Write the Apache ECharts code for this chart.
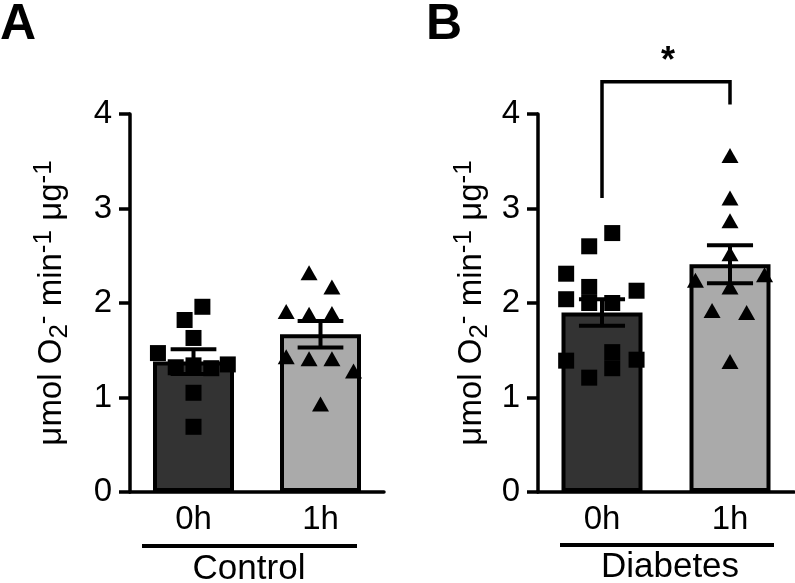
<!DOCTYPE html>
<html><head><meta charset="utf-8">
<script src="https://cdn.jsdelivr.net/npm/echarts/dist/echarts.min.js"></script>
<style>html,body{margin:0;padding:0;background:#fff}#c{width:795px;height:583px}</style>
</head><body><div id="c"></div>
<script>
// ---- data ----
const categories = ['0h', '1h'];
const groupNames = ['Control', 'Diabetes'];
const panelLetters = ['A', 'B'];
const yTickMin = 0, yTickMax = 4, yTickStep = 1;
const controlMeans = [1.38, 1.67];
const controlSEM = [0.13, 0.14];
const diabetesMeans = [1.90, 2.41];
const diabetesSEM = [0.14, 0.20];
// individual points: [horizontal jitter within the bar, value]
const control0h = [[0.07,1.96],[-0.07,1.82],[0,1.63],[-0.28,1.47],[-0.14,1.32],[0,1.34],[0.14,1.31],[0.27,1.35],[0,1.05],[0,0.69]];
const control1h = [[-0.09,2.32],[0.09,2.17],[-0.27,1.91],[-0.09,1.88],[0.09,1.89],[-0.27,1.43],[-0.09,1.41],[0.09,1.41],[0.26,1.28],[0,0.93]];
const diabetes0h = [[0.08,2.74],[-0.1,2.60],[-0.28,2.31],[-0.1,2.17],[0.27,2.13],[-0.28,2.04],[-0.1,2.00],[0.08,2.00],[0.08,1.48],[-0.28,1.39],[0.27,1.40],[0.08,1.31],[-0.1,1.21]];
const diabetes1h = [[0,3.56],[0,3.11],[0,2.87],[0,2.52],[-0.27,2.24],[0.27,2.30],[0,2.17],[-0.14,1.92],[0.13,1.90],[0,1.38]];
// significance bracket in panel B: [x0, x1, leftEnd, rightEnd, top, labelY]
const sigBracket = [0, 1, 3.11, 4.10, 4.34, 4.55];
const sigLabel = '*';

// ---- styles ----
const FONT = "'Liberation Sans', Arial, sans-serif";
const barColors = ['#333333', '#aaaaaa'];
const yName = '{t|μmol O}{sub|2}{sup|-}{t| min}{sup|-1}{t| μg}{sup|-1}';
const yNameStyle = {
  fontFamily: FONT, color: '#000',
  rich: {
    t: {fontSize: 33, fontFamily: FONT, color: '#000', lineHeight: 42},
    sub: {fontSize: 26, fontFamily: FONT, color: '#000', lineHeight: 24, verticalAlign: 'bottom'},
    sup: {fontSize: 26, fontFamily: FONT, color: '#000', lineHeight: 24, verticalAlign: 'top'}
  }
};

function catAxis(gi) {
  return {
    type: 'category', gridIndex: gi, data: categories,
    axisLine: {onZero: false, lineStyle: {color: '#000', width: 3.5}},
    axisTick: {show: false},
    axisLabel: {color: '#000', fontSize: 33, fontFamily: FONT, margin: 11}
  };
}
function jitterAxis(gi) {
  return {type: 'value', gridIndex: gi, min: -0.5, max: 1.5, show: false};
}
function valAxis(gi, gap) {
  return {
    type: 'value', gridIndex: gi, min: yTickMin, max: yTickMax, interval: yTickStep,
    axisLine: {show: true, onZero: false, lineStyle: {color: '#000', width: 3.5}},
    axisTick: {show: true, length: 11, lineStyle: {color: '#000', width: 3.5}},
    axisLabel: {color: '#000', fontSize: 33, fontFamily: FONT, margin: 18},
    splitLine: {show: false},
    name: yName, nameLocation: 'middle', nameRotate: 90, nameGap: gap,
    nameTextStyle: yNameStyle
  };
}

function errRender(params, api) {
  const x = api.value(0);
  const lo = api.coord([x, api.value(1)]);
  const hi = api.coord([x, api.value(2)]);
  const half = api.size([1, 0])[0] * 0.18;
  const st = {stroke: '#000', lineWidth: 4, fill: null};
  return {type: 'group', children: [
    {type: 'line', shape: {x1: lo[0], y1: lo[1], x2: hi[0], y2: hi[1]}, style: st},
    {type: 'line', shape: {x1: hi[0] - half, y1: hi[1], x2: hi[0] + half, y2: hi[1]}, style: st},
    {type: 'line', shape: {x1: lo[0] - half, y1: lo[1], x2: lo[0] + half, y2: lo[1]}, style: st}
  ]};
}
function bracketRender(params, api) {
  const x0 = api.value(0), x1 = api.value(1);
  const a = api.coord([x0, api.value(2)]);
  const b = api.coord([x0, api.value(4)]);
  const c = api.coord([x1, api.value(4)]);
  const d = api.coord([x1, api.value(3)]);
  const t = api.coord([(x0 + x1) / 2, api.value(5)]);
  return {type: 'group', children: [
    {type: 'polyline', shape: {points: [a, b, c, d]}, style: {stroke: '#000', lineWidth: 3.5, fill: null}},
    {type: 'text', x: t[0] + 2, y: t[1], style: {text: sigLabel, fontSize: 36, fontWeight: 'bold', fontFamily: FONT, fill: '#000', align: 'center', verticalAlign: 'middle'}}
  ]};
}

function barSeries(means, xi, yi) {
  return {
    type: 'bar', xAxisIndex: xi, yAxisIndex: yi, barWidth: 81, z: 2,
    data: means.map((v, i) => ({value: v, itemStyle: {color: barColors[i]}})),
    itemStyle: {borderColor: '#000', borderWidth: 4}
  };
}
function errSeries(means, sems, xi, yi) {
  return {
    type: 'custom', xAxisIndex: xi, yAxisIndex: yi, z: 3,
    data: means.map((m, i) => [i, m - sems[i], m + sems[i]]),
    renderItem: errRender
  };
}
function pointSeries(pts, catIdx, symbol, size, xi, yi) {
  return {
    type: 'scatter', xAxisIndex: xi, yAxisIndex: yi, z: 4,
    symbol: symbol, symbolSize: size,
    itemStyle: {color: '#000', opacity: 1},
    data: pts.map(p => [catIdx + p[0], p[1]])
  };
}

const option = {
  animation: false,
  backgroundColor: '#fff',
  grid: [
    {left: 130, right: 411, top: 114, bottom: 91},
    {left: 538, right: 1, top: 114, bottom: 91}
  ],
  xAxis: [catAxis(0), jitterAxis(0), catAxis(1), jitterAxis(1)],
  yAxis: [valAxis(0, 57), valAxis(1, 45)],
  series: [
    barSeries(controlMeans, 0, 0),
    errSeries(controlMeans, controlSEM, 0, 0),
    pointSeries(control0h, 0, 'rect', 16, 1, 0),
    pointSeries(control1h, 1, 'triangle', [17, 15], 1, 0),
    barSeries(diabetesMeans, 2, 1),
    errSeries(diabetesMeans, diabetesSEM, 2, 1),
    pointSeries(diabetes0h, 0, 'rect', 16, 3, 1),
    pointSeries(diabetes1h, 1, 'triangle', [17, 15], 3, 1),
    {type: 'custom', xAxisIndex: 3, yAxisIndex: 1, z: 5, clip: false,
     data: [sigBracket], renderItem: bracketRender}
  ],
  graphic: [
    {type: 'text', left: 0, top: 0, style: {text: panelLetters[0], fontSize: 50, fontWeight: 'bold', fontFamily: FONT, fill: '#000'}},
    {type: 'text', left: 426, top: 0, style: {text: panelLetters[1], fontSize: 50, fontWeight: 'bold', fontFamily: FONT, fill: '#000'}},
    {type: 'line', shape: {x1: 142, y1: 546, x2: 357, y2: 546}, style: {stroke: '#000', lineWidth: 4}},
    {type: 'line', shape: {x1: 560, y1: 545, x2: 774, y2: 545}, style: {stroke: '#000', lineWidth: 4}},
    {type: 'text', x: 249, y: 569, style: {text: groupNames[0], fontSize: 35, fontFamily: FONT, fill: '#000', align: 'center', verticalAlign: 'middle'}},
    {type: 'text', x: 670, y: 567, style: {text: groupNames[1], fontSize: 35, fontFamily: FONT, fill: '#000', align: 'center', verticalAlign: 'middle'}}
  ]
};
const chart = echarts.init(document.getElementById('c'), null, {renderer: 'canvas'});
chart.setOption(option);
</script>
</body></html>
